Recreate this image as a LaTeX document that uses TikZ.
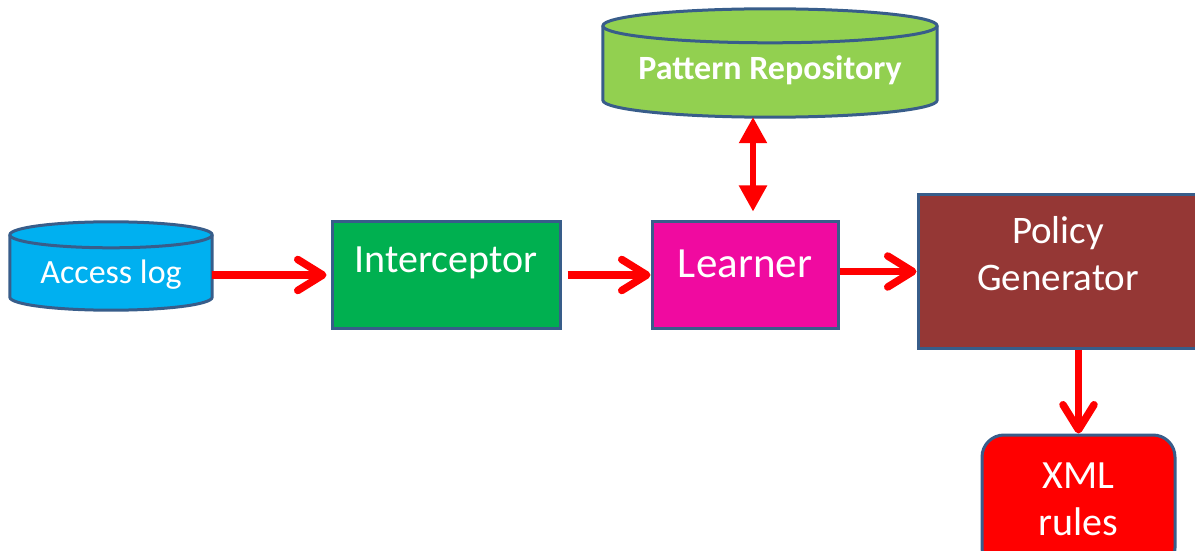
\documentclass[tikz,border=0pt]{standalone}
\usepackage{fontspec}
\setmainfont{Carlito}
\usetikzlibrary{arrows.meta,calc,backgrounds}

\definecolor{edge}{RGB}{56,93,138}
\definecolor{logblue}{RGB}{0,176,240}
\definecolor{icgreen}{RGB}{0,176,80}
\definecolor{lrnpink}{RGB}{240,10,160}
\definecolor{pgbrown}{RGB}{149,55,53}
\definecolor{xmlred}{RGB}{255,0,0}
\definecolor{repogreen}{RGB}{146,208,80}
\definecolor{arrowred}{RGB}{255,0,0}

% Database drum drawn round a node: #1 node, #2 end-ellipse y radius, #3 fill
\newcommand\dbcylinder[3]{%
  \path let \p1=(#1.north west), \p2=(#1.south east), \n1={(\x2-\x1)/2} in
    [fill=#3, draw=edge, line width=3pt, line join=round]
    (\x1,\y1-#2) -- (\x1,\y2+#2)
    arc[start angle=180, end angle=360, x radius=\n1, y radius=#2]
    -- (\x2,\y1-#2)
    arc[start angle=0, end angle=180, x radius=\n1, y radius=#2] -- cycle;
  \path let \p1=(#1.north west), \p2=(#1.south east), \n1={(\x2-\x1)/2} in
    [draw=edge, line width=3pt]
    (\x1,\y1-#2) arc[start angle=180, end angle=360, x radius=\n1, y radius=#2];
}

\begin{document}
\begin{tikzpicture}[x=1pt, y=1pt,
  box/.style={draw=edge, line width=3pt, text=white, inner sep=0pt},
  store/.style={inner sep=0pt, text=white},
  flow/.style={draw=arrowred, line width=7.5pt,
    -{Straight Barb[length=25pt, width=31pt, round]}},
  link/.style={draw=arrowred, line width=5.5pt,
    {Triangle[length=26pt, width=27pt]}-{Triangle[length=26pt, width=27pt]}},
]
\useasboundingbox (0,0) rectangle (1195,550);
\clip (0,0) rectangle (1195,550);

% data stores
\node[store, minimum width=202, minimum height=88] (acc) at (111,284)
  {\fontsize{34}{40}\selectfont\raisebox{-17pt}[0pt][0pt]{Access log}};
\node[store, minimum width=334, minimum height=108] (pr) at (770,487)
  {\fontsize{34}{40}\selectfont\bfseries\raisebox{-17pt}[0pt][0pt]{Pattern Repository}};

\begin{scope}[on background layer]
  \dbcylinder{acc}{13pt}{logblue}
  \dbcylinder{pr}{17pt}{repogreen}
\end{scope}

% processing stages
\node[box, fill=icgreen, minimum width=228, minimum height=106] (int) at (446,275)
  {\fontsize{40}{48}\selectfont\raisebox{3pt}[0pt][0pt]{Interceptor}};
\node[box, fill=lrnpink, minimum width=186, minimum height=106] (lrn) at (745,275)
  {\fontsize{43}{50}\selectfont\raisebox{-2pt}[0pt][0pt]{Learner}};
\node[box, fill=pgbrown, minimum width=280, minimum height=153] (pg) at (1058,278.5)
  {\fontsize{39}{47}\selectfont\raisebox{-18.5pt}[0pt][0pt]{%
    \begin{tabular}[b]{@{}c@{}}Policy\\Generator\end{tabular}}};
\node[box, fill=xmlred, rounded corners=22pt, minimum width=193, minimum height=135] (xml) at (1078.5,47.5)
  {\fontsize{40}{47}\selectfont\raisebox{-32.5pt}[0pt][0pt]{%
    \begin{tabular}[b]{@{}c@{}}XML\\rules\end{tabular}}};

% connectors
\coordinate (tap) at ([xshift=8pt]lrn.north);
\draw[flow] (acc.east |- int.west) -- ([xshift=-4pt]int.west);
\draw[flow] ([xshift=6pt]int.east) -- ([xshift=0pt]lrn.west);
\draw[flow] (lrn.east |- pg.west) -- ([xshift=0pt]pg.west);
\draw[flow] (xml.north |- pg.south) -- ([yshift=0pt]xml.north);
\draw[link] (tap |- pr.south) -- ([yshift=9pt]tap);
\end{tikzpicture}
\end{document}
